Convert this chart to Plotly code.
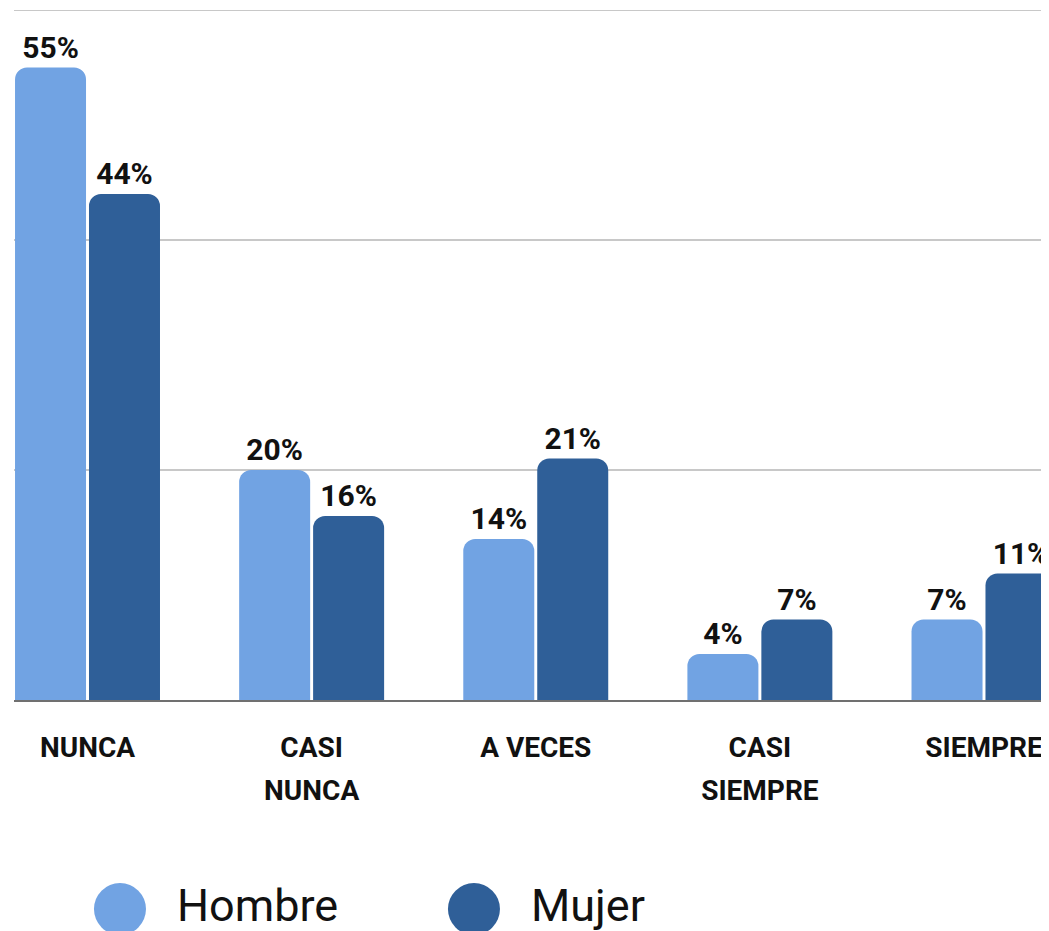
import plotly.graph_objects as go

categorias = ["NUNCA", "CASI<br>NUNCA", "A VECES", "CASI<br>SIEMPRE", "SIEMPRE"]
hombre = [55, 20, 14, 4, 7]
mujer = [44, 16, 21, 7, 11]
series = ["Hombre", "Mujer"]
colores = ["#71A3E3", "#2F5F98"]

# tick text: big base font for line spacing, smaller glyphs via span
ticktext = ["<br>".join(f"<span style='font-size:28px'>{p}</span>" for p in c.split("<br>"))
            for c in categorias]

fig = go.Figure()

for nombre, vals, color in zip(series, [hombre, mujer], colores):
    fig.add_trace(go.Bar(
        x=categorias,
        y=vals,
        name=nombre,
        marker=dict(color=color, line=dict(width=0)),
        text=[f"{v}%" for v in vals],
        textposition="outside",
        textfont=dict(family="Roboto", size=30, color="#111111", weight="bold"),
        cliponaxis=False,
        showlegend=False,
    ))

# custom legend with big circles
leg_x = [0.1024, 0.4444]
for nombre, color, lx in zip(series, colores, leg_x):
    fig.add_shape(
        type="circle", xref="paper", yref="paper",
        xsizemode="pixel", ysizemode="pixel",
        xanchor=lx, yanchor=-0.303,
        x0=-26, x1=26, y0=-26, y1=26,
        fillcolor=color, line=dict(width=0),
    )
    fig.add_annotation(
        x=lx + 0.053, y=-0.298, xref="paper", yref="paper",
        text=nombre, showarrow=False, xanchor="left", yanchor="middle",
        font=dict(family="Roboto", size=45, color="#111111"),
    )

# top gridline at the edge of the plot
fig.add_shape(type="line", xref="paper", yref="y", x0=0, x1=1, y0=60, y1=60,
              line=dict(color="#C8C8C8", width=2), layer="below")

fig.update_layout(
    width=1041, height=923,
    margin=dict(l=6, r=0, t=2, b=231),
    plot_bgcolor="white", paper_bgcolor="white",
    barmode="group", bargap=0.34, bargroupgap=0.04,
    barcornerradius=12,
    xaxis=dict(
        range=[-0.328, 4.29],
        tickmode="array", tickvals=categorias, ticktext=ticktext,
        showline=True, linecolor="#707070", linewidth=2,
        ticks="", ticklabelstandoff=15,
        tickfont=dict(family="Roboto", size=33, color="#111111", weight="bold"),
        showgrid=False,
    ),
    yaxis=dict(
        range=[0, 60], dtick=20,
        showgrid=True, gridcolor="#C8C8C8", gridwidth=2,
        showticklabels=False, zeroline=False,
    ),
)

fig.write_html("out.html")
